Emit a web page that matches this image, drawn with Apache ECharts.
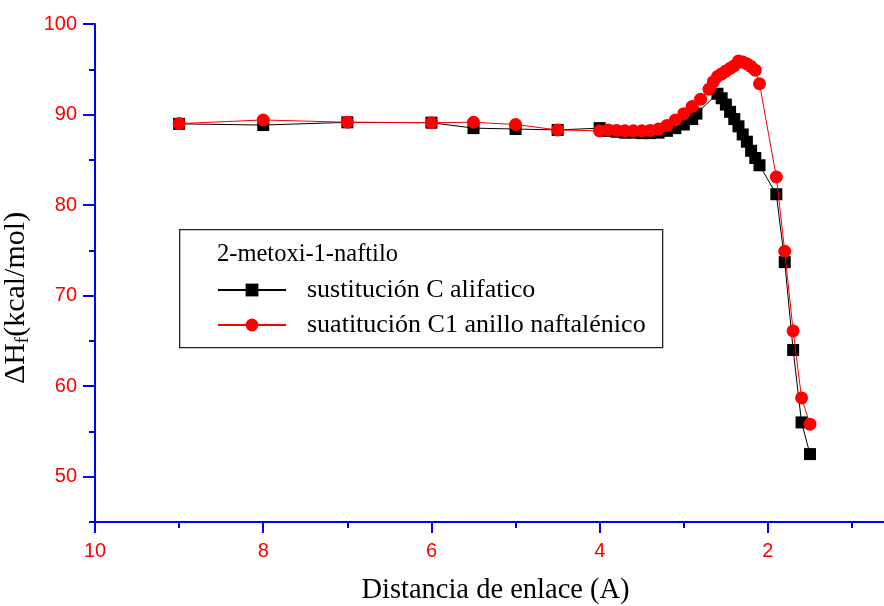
<!DOCTYPE html>
<html>
<head>
<meta charset="utf-8">
<script src="https://cdn.jsdelivr.net/npm/echarts@6/dist/echarts.min.js"></script>
<style>html,body{margin:0;padding:0;background:#fff;}#c{width:884px;height:606px;}</style>
</head>
<body>
<div id="c"></div>
<script>
// Series 1: sustitución C alifatico (black squares)
const xAlif = [9, 8, 7, 6, 5.5, 5, 4.5, 4.0, 3.9, 3.8, 3.7, 3.6, 3.5, 3.4, 3.3, 3.2, 3.1, 3.0, 2.9, 2.85,
  2.6, 2.55, 2.5, 2.45, 2.4, 2.35, 2.3, 2.25, 2.2, 2.15, 2.1, 1.9, 1.8, 1.7, 1.6, 1.5];
const yAlif = [88.97, 88.84, 89.14, 89.1, 88.5, 88.4, 88.3, 88.5, 88.2, 88.1, 88.0, 88.0, 87.95, 87.95, 88.0, 88.2, 88.5, 88.9, 89.5, 90.1,
  92.3, 91.8, 91.1, 90.3, 89.5, 88.7, 87.8, 87.0, 86.0, 85.2, 84.4, 81.2, 73.7, 64.0, 56.0, 52.5];
// Series 2: suatitución C1 anillo naftalénico (red circles)
const xNaft = [9, 8, 7, 6, 5.5, 5, 4.5, 4.0, 3.9, 3.8, 3.7, 3.6, 3.5, 3.4, 3.3, 3.2, 3.1, 3.0, 2.9, 2.8, 2.7,
  2.65, 2.6, 2.55, 2.5, 2.45, 2.4, 2.35, 2.3, 2.25, 2.2, 2.15, 2.1, 1.9, 1.8, 1.7, 1.6, 1.5];
const yNaft = [89.0, 89.4, 89.15, 89.1, 89.15, 88.9, 88.3, 88.2, 88.3, 88.25, 88.2, 88.2, 88.2, 88.25, 88.4, 88.8, 89.4, 90.1, 90.9, 91.7, 92.8,
  93.6, 94.2, 94.5, 94.8, 95.1, 95.4, 95.9, 95.8, 95.6, 95.3, 94.9, 93.4, 83.1, 74.9, 66.1, 58.7, 55.8];

const xMajorTicks = [2, 4, 6, 8, 10];
const xMinorTicks = [1, 3, 5, 7, 9];
const yMajorTicks = [50, 60, 70, 80, 90, 100];
const yMinorTicks = [45, 55, 65, 75, 85, 95];

const seriesNames = ['sustitución C alifatico', 'suatitución C1 anillo naftalénico'];
const legendTitle = '2-metoxi-1-naftilo';
const xTitle = 'Distancia de enlace (A)';

const zip = (xs, ys) => xs.map((x, i) => [x, ys[i]]);
const BLUE = '#0000ff', RED = '#ff0000';
const X_MIN = 0.62, X_MAX = 10, Y_MIN = 45, Y_MAX = 100;

const chart = echarts.init(document.getElementById('c'), null, {renderer: 'canvas'});
chart.setOption({
  animation: false,
  backgroundColor: '#fff',
  grid: {left: 95, right: 0, top: 24, bottom: 84, containLabel: false, outerBoundsMode: 'none'},
  xAxis: [{
    type: 'value', min: X_MIN, max: X_MAX, inverse: true, position: 'bottom',
    axisLine: {lineStyle: {color: BLUE, width: 2}},
    axisTick: {customValues: xMajorTicks, length: 11, lineStyle: {color: BLUE, width: 2}},
    axisLabel: {customValues: xMajorTicks, color: RED, fontFamily: 'Liberation Sans', fontSize: 20, margin: 19},
    splitLine: {show: false},
    name: xTitle, nameLocation: 'middle', nameGap: 54,
    nameTextStyle: {fontFamily: 'Liberation Serif', fontSize: 28.5, color: '#000', padding: [0, 0, 0, 12]}
  }, {
    type: 'value', min: X_MIN, max: X_MAX, inverse: true, position: 'bottom',
    axisLine: {show: false},
    axisTick: {customValues: xMinorTicks, length: 6, lineStyle: {color: BLUE, width: 2}},
    axisLabel: {show: false}, splitLine: {show: false}
  }],
  yAxis: [{
    type: 'value', min: Y_MIN, max: Y_MAX, position: 'left',
    axisLine: {show: true, lineStyle: {color: BLUE, width: 2}},
    axisTick: {show: true, customValues: yMajorTicks, length: 12, lineStyle: {color: BLUE, width: 2}},
    axisLabel: {customValues: yMajorTicks, color: RED, fontFamily: 'Liberation Sans', fontSize: 20, margin: 18},
    splitLine: {show: false},
    name: 'ΔH{sub|f}(kcal/mol)', nameLocation: 'middle', nameGap: 56, nameRotate: 90,
    nameTextStyle: {fontFamily: 'Liberation Serif', fontSize: 30, color: '#000', padding: [0, 50, 0, 0],
      rich: {sub: {fontFamily: 'Liberation Serif', fontSize: 19, color: '#000', verticalAlign: 'bottom', padding: [15, 0, 0, 0]}}}
  }, {
    type: 'value', min: Y_MIN, max: Y_MAX, position: 'left',
    axisLine: {show: false},
    axisTick: {show: true, customValues: yMinorTicks, length: 6, lineStyle: {color: BLUE, width: 2}},
    axisLabel: {show: false}, splitLine: {show: false}
  }],
  legend: {
    orient: 'vertical', left: 217, top: 277, padding: 0,
    itemWidth: 68, itemHeight: 16, itemGap: 9,
    textStyle: {fontFamily: 'Liberation Serif', fontSize: 26, color: '#000', lineHeight: 26, padding: [0, 0, 0, 16]},
    data: seriesNames
  },
  graphic: [{
    type: 'rect', left: 179, top: 229, z: 0,
    shape: {width: 483, height: 118},
    style: {fill: '#fff', stroke: '#222', lineWidth: 1.3}
  }, {
    type: 'text', left: 217, top: 242, z: 10,
    style: {text: legendTitle, fontFamily: 'Liberation Serif', fontSize: 24.5, fill: '#000'}
  }],
  series: [{
    name: seriesNames[0], type: 'line', xAxisIndex: 0, yAxisIndex: 0,
    data: zip(xAlif, yAlif),
    symbol: 'rect', symbolSize: 12,
    itemStyle: {color: '#000'},
    lineStyle: {color: '#000', width: 1},
    z: 3
  }, {
    name: seriesNames[1], type: 'line', xAxisIndex: 0, yAxisIndex: 0,
    data: zip(xNaft, yNaft),
    symbol: 'circle', symbolSize: 13,
    itemStyle: {color: RED},
    lineStyle: {color: RED, width: 1},
    z: 4
  }]
});
</script>
</body>
</html>
